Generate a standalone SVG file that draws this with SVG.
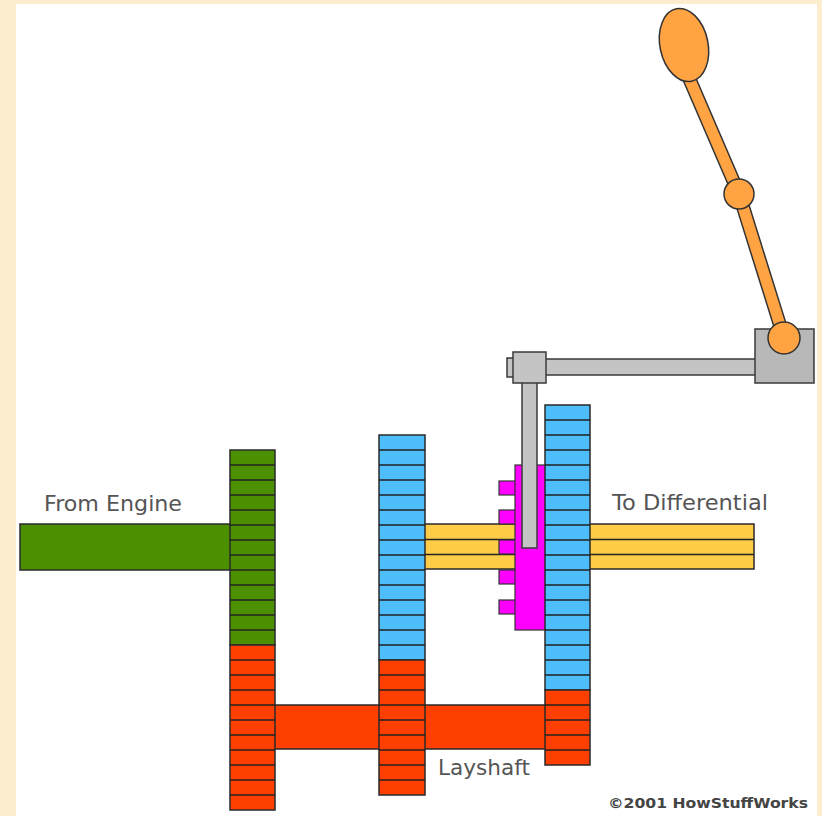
<svg xmlns="http://www.w3.org/2000/svg" width="822" height="816" viewBox="0 0 822 816">
  <style>
    .gear-green { fill: #4c9000; }
    .gear-blue { fill: #4dbdfb; }
    .gear-red { fill: #ff3f00; }
    .shaft-yellow { fill: #ffcc48; }
    .collar { fill: #ff00ff; stroke: #333; stroke-width: 1.2; }
    .edge { stroke: #2a2a2a; stroke-width: 1.5; }
    .teeth { fill: none; stroke: #222; stroke-width: 1.5; }
    .steel { fill: #c4c4c4; stroke: #3a3a3a; stroke-width: 1.5; }
    .steel-dark { fill: #b8b8b8; stroke: #3a3a3a; stroke-width: 1.5; }
    .lever-edge { stroke: #333; stroke-width: 14; fill: none; }
    .lever-core { stroke: #ffa343; stroke-width: 11; fill: none; }
    .knob { fill: #ffa343; stroke: #333; stroke-width: 1.5; }
    .label { font-family: "DejaVu Sans", Verdana, sans-serif; font-size: 22px; fill: #555; }
    .credit { font-family: "DejaVu Sans", Verdana, sans-serif; font-size: 14px; font-weight: bold; fill: #444; }
  </style>

  <!-- page frame -->
  <rect x="0" y="0" width="822" height="816" fill="#fcedcf"/>
  <rect x="16" y="4" width="801" height="812" fill="#ffffff"/>

  <!-- shafts -->
  <g id="connectors">
    <rect id="input-shaft" class="gear-green edge" x="20" y="524" width="212" height="46"/>
    <rect id="layshaft" class="gear-red edge" x="272" y="705" width="275" height="44"/>
    <g id="output-shaft">
      <rect class="shaft-yellow edge" x="423" y="524" width="331" height="45"/>
      <path class="teeth" d="M423 539.5H754M423 554.5H754"/>
    </g>
  </g>

  <!-- input gear (engine side) -->
  <g id="input-gear">
    <rect class="gear-green edge" x="230" y="450" width="45" height="195"/>
    <path class="teeth" d="M230 465H275M230 480H275M230 495H275M230 510H275M230 525H275M230 540H275M230 555H275M230 570H275M230 585H275M230 600H275M230 615H275M230 630H275"/>
  </g>

  <!-- layshaft gear meshing with input gear -->
  <g id="layshaft-gear-1">
    <rect class="gear-red edge" x="230" y="645" width="45" height="165"/>
    <path class="teeth" d="M230 660H275M230 675H275M230 690H275M230 705H275M230 720H275M230 735H275M230 750H275M230 765H275M230 780H275M230 795H275"/>
  </g>

  <!-- first output gear -->
  <g id="output-gear-1">
    <rect class="gear-blue edge" x="379" y="435" width="46" height="225"/>
    <path class="teeth" d="M379 450H425M379 465H425M379 480H425M379 495H425M379 510H425M379 525H425M379 540H425M379 555H425M379 570H425M379 585H425M379 600H425M379 615H425M379 630H425M379 645H425"/>
  </g>

  <!-- layshaft gear 2 -->
  <g id="layshaft-gear-2">
    <rect class="gear-red edge" x="379" y="660" width="46" height="135"/>
    <path class="teeth" d="M379 675H425M379 690H425M379 705H425M379 720H425M379 735H425M379 750H425M379 765H425M379 780H425"/>
  </g>

  <!-- sliding dog collar -->
  <g id="dog-collar">
    <rect class="collar" x="499" y="481" width="17" height="14"/>
    <rect class="collar" x="499" y="510" width="17" height="14"/>
    <rect class="collar" x="499" y="540" width="17" height="14"/>
    <rect class="collar" x="499" y="570" width="17" height="14"/>
    <rect class="collar" x="499" y="600" width="17" height="14"/>
    <rect class="collar" x="515" y="465" width="31" height="165"/>
  </g>

  <!-- second output gear -->
  <g id="output-gear-2">
    <rect class="gear-blue edge" x="545" y="405" width="45" height="285"/>
    <path class="teeth" d="M545 420H590M545 435H590M545 450H590M545 465H590M545 480H590M545 495H590M545 510H590M545 525H590M545 540H590M545 555H590M545 570H590M545 585H590M545 600H590M545 615H590M545 630H590M545 645H590M545 660H590M545 675H590"/>
  </g>

  <!-- layshaft gear 3 -->
  <g id="layshaft-gear-3">
    <rect class="gear-red edge" x="545" y="690" width="45" height="75"/>
    <path class="teeth" d="M545 705H590M545 720H590M545 735H590M545 750H590"/>
  </g>

  <!-- selector fork and rod -->
  <g id="selector-fork">
    <rect class="steel" x="522" y="378" width="15" height="170"/>
    <rect class="steel" x="544" y="359" width="213" height="16"/>
    <rect class="steel" x="507" y="358" width="7" height="19"/>
    <rect class="steel" x="513" y="352" width="33" height="31"/>
    <rect class="steel-dark" x="755" y="329" width="59" height="54"/>
  </g>

  <!-- gear lever -->
  <g id="gear-lever">
    <path class="lever-edge" d="M689 78L739 194L784 338"/>
    <path class="lever-core" d="M689 78L739 194L784 338"/>
    <ellipse class="knob" cx="684" cy="45" rx="24" ry="37" transform="rotate(-12 684 45)"/>
    <circle class="knob" cx="739" cy="194" r="15"/>
    <circle class="knob" cx="784" cy="338" r="16"/>
  </g>

  <!-- labels -->
  <text class="label" x="44" y="511" textLength="138" lengthAdjust="spacingAndGlyphs">From Engine</text>
  <text class="label" x="612" y="510" textLength="156" lengthAdjust="spacingAndGlyphs">To Differential</text>
  <text class="label" x="438" y="775" textLength="92" lengthAdjust="spacingAndGlyphs">Layshaft</text>
  <text class="credit" x="608" y="808" textLength="200" lengthAdjust="spacingAndGlyphs">©2001 HowStuffWorks</text>
</svg>
